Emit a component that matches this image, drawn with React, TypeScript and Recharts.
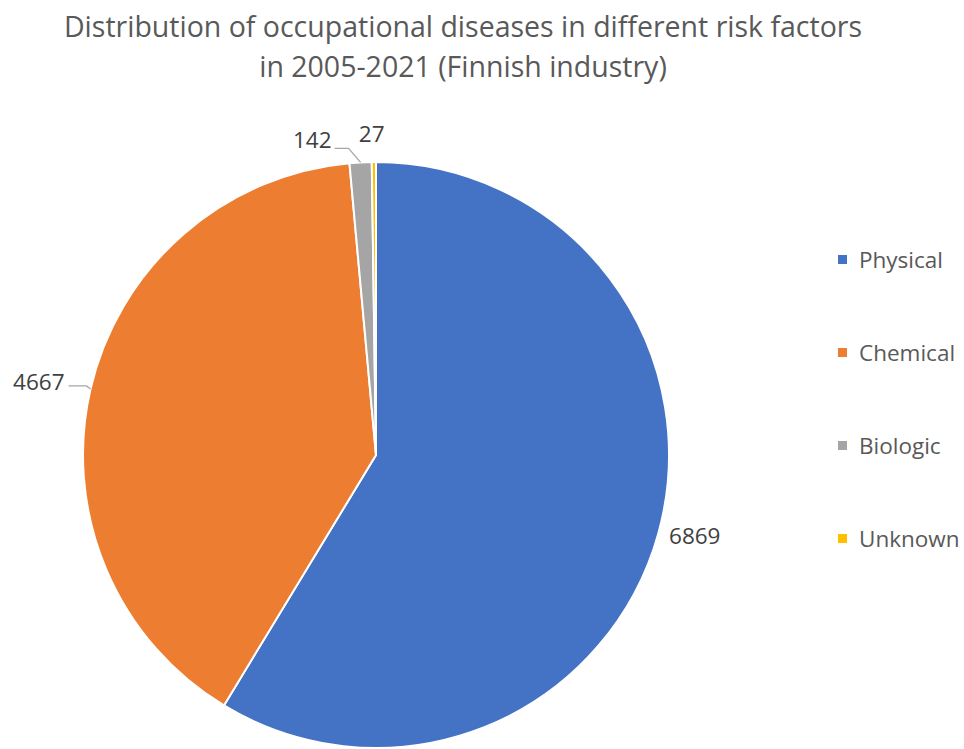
import { PieChart, Pie, Cell, Legend } from 'recharts';

const categories = ['Physical', 'Chemical', 'Biologic', 'Unknown'];
const cases = [6869, 4667, 142, 27];
const colors = ['#4472C4', '#ED7D31', '#A5A5A5', '#FFC000'];
const titleLines = [
  'Distribution of occupational diseases in different risk factors',
  'in 2005-2021 (Finnish industry)',
];

const data = categories.map((name, i) => ({ name, value: cases[i] }));

const FONT = '"Open Sans", sans-serif';
const RAD = Math.PI / 180;

function renderLabel(props: any) {
  const { cx, cy, midAngle, outerRadius, value, name } = props;
  const pt = (r: number) => [cx + r * Math.cos(-midAngle * RAD), cy + r * Math.sin(-midAngle * RAD)];
  const text = { fill: '#404040', fontSize: 22.5, fontFamily: FONT };
  const lineStyle = { stroke: '#A6A6A6', strokeWidth: 1.3, fill: 'none' };

  if (name === 'Chemical') {
    const [x0, y0] = pt(outerRadius);
    return (
      <g>
        <polyline points={`${x0},${y0} ${x0 - 4},${y0 - 3} ${x0 - 22},${y0 - 3}`} {...lineStyle} />
        <text x={x0 - 26} y={y0 + 1} textAnchor="end" {...text}>{value}</text>
      </g>
    );
  }
  if (name === 'Biologic') {
    const [x0, y0] = pt(outerRadius);
    return (
      <g>
        <polyline points={`${x0},${y0} ${x0 - 12},${y0 - 14} ${x0 - 26},${y0 - 14}`} {...lineStyle} />
        <text x={x0 - 29} y={y0 - 14} textAnchor="end" {...text}>{value}</text>
      </g>
    );
  }
  if (name === 'Unknown') {
    const [x0, y0] = pt(outerRadius + 20);
    return <text x={x0 - 2} y={y0} textAnchor="middle" {...text}>{value}</text>;
  }
  const [x, y] = pt(outerRadius + 38);
  return <text x={x} y={y - 9} textAnchor="middle" dominantBaseline="central" {...text}>{value}</text>;
}

function LegendList() {
  return (
    <div style={{ fontFamily: FONT, fontSize: 22.5, color: '#595959' }}>
      {categories.map((c, i) => (
        <div key={c} style={{ display: 'flex', alignItems: 'center', height: 93 }}>
          <span style={{ width: 9, height: 9, background: colors[i], marginRight: 12, display: 'inline-block' }} />
          <span>{c}</span>
        </div>
      ))}
    </div>
  );
}

export default function App() {
  return (
    <div style={{ position: 'absolute', left: 0, top: 0, width: 964, height: 749, background: '#fff' }}>
      <div
        style={{
          position: 'absolute', left: 0, top: 6, width: 926, textAlign: 'center',
          fontFamily: FONT, fontSize: 28.5, color: '#595959', lineHeight: '40px',
        }}
      >
        {titleLines.map(l => <div key={l}>{l}</div>)}
      </div>
      <PieChart width={964} height={749} margin={{ top: 0, right: 0, bottom: 0, left: 0 }}>
        <Pie
          data={data}
          dataKey="value"
          nameKey="name"
          cx={376}
          cy={455}
          outerRadius={293}
          startAngle={90}
          endAngle={-270}
          stroke="#fff"
          strokeWidth={2}
          label={renderLabel}
          labelLine={false}
          isAnimationActive={false}
        >
          {data.map((d, i) => <Cell key={d.name} fill={colors[i]} />)}
        </Pie>
        <Legend
          content={<LegendList />}
          wrapperStyle={{ position: 'absolute', left: 838, top: 213, width: 126 }}
        />
      </PieChart>
    </div>
  );
}
